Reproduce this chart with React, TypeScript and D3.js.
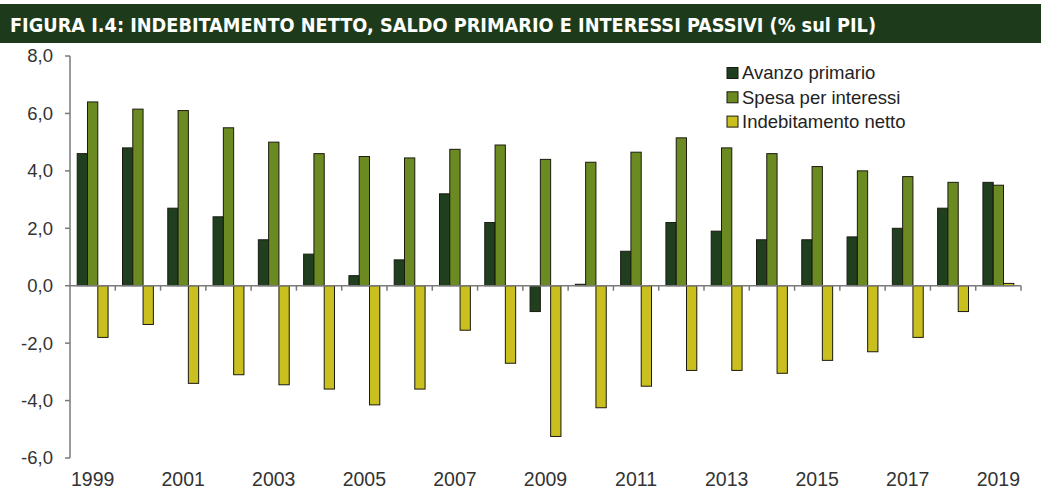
import React from "react";
import * as d3 from "d3";

const years = [
  "1999", "2000", "2001", "2002", "2003", "2004", "2005", "2006", "2007", "2008", "2009",
  "2010", "2011", "2012", "2013", "2014", "2015", "2016", "2017", "2018", "2019",
];
const avanzoPrimario = [4.6, 4.8, 2.7, 2.4, 1.6, 1.1, 0.35, 0.9, 3.2, 2.2, -0.9, 0.05, 1.2, 2.2, 1.9, 1.6, 1.6, 1.7, 2.0, 2.7, 3.6];
const spesaInteressi = [6.4, 6.15, 6.1, 5.5, 5.0, 4.6, 4.5, 4.45, 4.75, 4.9, 4.4, 4.3, 4.65, 5.15, 4.8, 4.6, 4.15, 4.0, 3.8, 3.6, 3.5];
const indebitamentoNetto = [-1.8, -1.35, -3.4, -3.1, -3.45, -3.6, -4.15, -3.6, -1.55, -2.7, -5.25, -4.25, -3.5, -2.95, -2.95, -3.05, -2.6, -2.3, -1.8, -0.9, 0.08];
const seriesNames = ["Avanzo primario", "Spesa per interessi", "Indebitamento netto"];
const seriesColors = ["#1f3f1e", "#6b8a22", "#c9bf1f"];
const yTicks = [8, 6, 4, 2, 0, -2, -4, -6];
const xTickLabels = ["1999", "2001", "2003", "2005", "2007", "2009", "2011", "2013", "2015", "2017", "2019"];
const title = "FIGURA I.4: INDEBITAMENTO NETTO, SALDO PRIMARIO E INTERESSI PASSIVI (% sul PIL)";

const W = 1041;
const H = 491;
const left = 70;
const right = 1021;
const top = 56;
const bottom = 458;

export default function App() {
  const allSeries = [avanzoPrimario, spesaInteressi, indebitamentoNetto];
  const x0 = d3.scaleBand<string>().domain(years).range([left, right]).paddingInner(0).paddingOuter(0);
  const x1 = d3
    .scaleBand<string>()
    .domain(seriesNames)
    .range([0, x0.bandwidth()])
    .paddingInner(0)
    .paddingOuter(0.7);
  const y = d3.scaleLinear().domain([-6, 8]).range([bottom, top]);
  const fmt = (v: number) => v.toFixed(1).replace(".", ",");
  const font = "'Liberation Sans', Arial, sans-serif";
  const axisColor = "#7a7a7a";

  return (
    <svg
      width={W}
      height={H}
      style={{ position: "absolute", left: 0, top: 0, background: "#fff" }}
    >
      <rect x={0} y={0} width={W} height={H} fill="#ffffff" />
      {/* title bar */}
      <rect x={0} y={4} width={W} height={39} fill="#1d3b1b" />
      <text
        x={10}
        y={32}
        fill="#ffffff"
        fontFamily="'Liberation Sans Narrow', 'DejaVu Sans Condensed', Arial, sans-serif"
        fontWeight="bold"
        fontSize={20}
        textLength={866}
        lengthAdjust="spacingAndGlyphs"
      >
        {title}
      </text>

      {/* bars */}
      {allSeries.map((vals, si) =>
        vals.map((v, i) => {
          const bx = (x0(years[i]) ?? 0) + (x1(seriesNames[si]) ?? 0);
          const y0 = y(0);
          const yv = y(v);
          return (
            <rect
              key={`${si}-${i}`}
              x={bx}
              y={Math.min(y0, yv)}
              width={x1.bandwidth()}
              height={Math.max(0.8, Math.abs(yv - y0))}
              fill={seriesColors[si]}
              stroke="#1a1a10"
              strokeWidth={1}
            />
          );
        })
      )}

      {/* y axis */}
      <line x1={left} x2={left} y1={top} y2={bottom} stroke={axisColor} strokeWidth={1.5} />
      {yTicks.map((t) => (
        <g key={t}>
          <line x1={left - 5} x2={left} y1={y(t)} y2={y(t)} stroke={axisColor} strokeWidth={1.5} />
          <text
            x={53}
            y={y(t)}
            dy="0.35em"
            textAnchor="end"
            fontFamily={font}
            fontSize={18.5}
            fill="#333"
          >
            {fmt(t)}
          </text>
        </g>
      ))}

      {/* x axis (zero line) */}
      <line x1={left} x2={right} y1={y(0)} y2={y(0)} stroke={axisColor} strokeWidth={1.5} />
      {years.map((yr) => (
        <line
          key={yr}
          x1={(x0(yr) ?? 0) + x0.bandwidth()}
          x2={(x0(yr) ?? 0) + x0.bandwidth()}
          y1={y(0)}
          y2={y(0) + 5}
          stroke={axisColor}
          strokeWidth={1.5}
        />
      ))}
      {xTickLabels.map((lbl) => (
        <text
          key={lbl}
          x={(x0(lbl) ?? 0) + x0.bandwidth() / 2}
          y={486}
          textAnchor="middle"
          fontFamily={font}
          fontSize={19.5}
          fill="#333"
        >
          {lbl}
        </text>
      ))}

      {/* legend */}
      {seriesNames.map((name, i) => (
        <g key={name} transform={`translate(727, ${73 + i * 24.3})`}>
          <rect x={0} y={-5.5} width={11} height={11} fill={seriesColors[i]} stroke="#1a1a10" strokeWidth={1} />
          <text x={15} y={0} dy="0.35em" fontFamily={font} fontSize={18.5} fill="#222">
            {name}
          </text>
        </g>
      ))}
    </svg>
  );
}
